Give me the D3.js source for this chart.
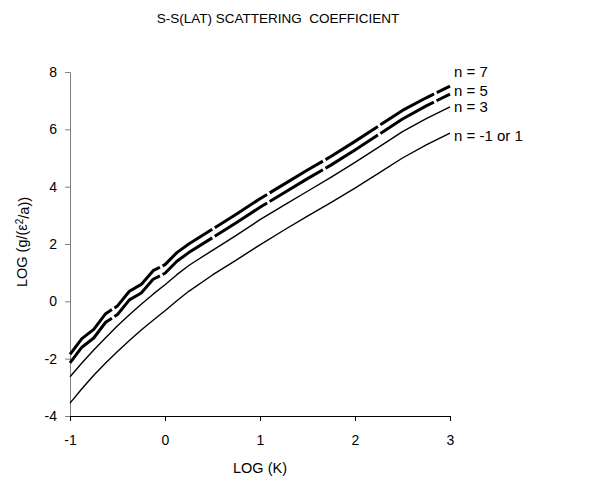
<!DOCTYPE html>
<meta charset="utf-8">
<style>

body {
  margin: 0;
  background: #fff;
}

text {
  font-family: "Liberation Sans", Arial, sans-serif;
  fill: #000;
}

.line {
  fill: none;
  stroke: #000;
}

</style>
<body>
    <div class='chart'></div>
</body>
<script src="https://d3js.org/d3.v7.min.js"></script>
<script>

// LOG (K) sample points
var logK = [-1, -0.875, -0.75, -0.625, -0.5, -0.375, -0.25, -0.125, 0, 0.125, 0.25,
            0.5, 0.75, 1, 1.25, 1.5, 1.75, 2, 2.25, 2.5, 2.75, 3];

// LOG (g/(eps^2/a))
var nLow = [-3.55, -3.05, -2.58, -2.15, -1.75, -1.37, -1.00, -0.66, -0.33, 0.02, 0.35,
            0.92, 1.44, 1.97, 2.48, 2.97, 3.45, 3.95, 4.47, 5.00, 5.46, 5.87];
var n3 = [-2.63, -2.15, -1.70, -1.27, -0.85, -0.47, -0.10, 0.25, 0.58, 0.93, 1.25,
          1.78, 2.30, 2.85, 3.35, 3.84, 4.33, 4.85, 5.38, 5.92, 6.37, 6.78];
var n5 = [-2.15, -1.60, -1.28, -0.73, -0.46, 0.05, 0.29, 0.77, 0.98, 1.40, 1.70,
          2.22, 2.74, 3.28, 3.78, 4.28, 4.76, 5.28, 5.82, 6.36, 6.82, 7.23];
var n7 = [-1.85, -1.30, -0.98, -0.43, -0.16, 0.35, 0.59, 1.07, 1.28, 1.70, 2.00,
          2.52, 3.04, 3.58, 4.08, 4.58, 5.06, 5.58, 6.12, 6.66, 7.10, 7.51];

var names = ["n = -1 or 1", "n = 3", "n = 5", "n = 7"];
var labelAt = [5.77, 6.78, 7.34, 8.0];
var xTicks = [-1, 0, 1, 2, 3];
var yTicks = [-4, -2, 0, 2, 4, 6, 8];

var w = 610,
    h = 480;

var svg = d3.select(".chart").append("svg")
    .attr("width", w)
    .attr("height", h);

var x = d3.scaleLinear().domain([-1, 3]).range([70, 450]);
var y = d3.scaleLinear().domain([-4, 8]).range([416, 72]);

var series = [
  {name: names[0], vals: nLow, thick: false, lab: labelAt[0]},
  {name: names[1], vals: n3, thick: false, lab: labelAt[1]},
  {name: names[2], vals: n5, thick: true, lab: labelAt[2]},
  {name: names[3], vals: n7, thick: true, lab: labelAt[3]}
];

function plain(d) { return String(d); }

// axes
var yAxis = svg.append("g")
    .attr("transform", "translate(" + x(-1) + ",0)")
    .call(d3.axisLeft(y).tickValues(yTicks).tickSize(5).tickPadding(8).tickFormat(plain));
yAxis.selectAll("path, line").attr("stroke", "#808080");
yAxis.selectAll("text").style("font-size", "14px").attr("font-family", null);

var xAxis = svg.append("g")
    .attr("transform", "translate(0," + y(-4) + ")")
    .call(d3.axisBottom(x).tickValues(xTicks).tickSize(5).tickPadding(14).tickFormat(plain));
xAxis.selectAll("path, line").attr("stroke", "#000");
xAxis.selectAll("text").style("font-size", "14px").attr("font-family", null);

var line = d3.line()
    .x(function(d, i) { return x(logK[i]); })
    .y(function(d) { return y(d); });

svg.selectAll(".line")
    .data(series)
  .enter().append("path")
    .attr("class", "line")
    .attr("d", function(d) { return line(d.vals); })
    .attr("stroke-width", function(d) { return d.thick ? 3 : 1.4; })
    .attr("stroke-dasharray", function(d) { return d.thick ? "62,3" : null; })
    .attr("stroke-linejoin", "round");

svg.selectAll(".lab")
    .data(series)
  .enter().append("text")
    .attr("class", "lab")
    .attr("x", x(3) + 4)
    .attr("y", function(d) { return y(d.lab); })
    .attr("dy", "0.35em")
    .style("font-size", "15px")
    .text(function(d) { return d.name; });

// titles
svg.append("text")
    .attr("x", 278)
    .attr("y", 23)
    .attr("text-anchor", "middle")
    .style("font-size", "13.5px")
    .text("S-S(LAT) SCATTERING\u00a0\u00a0COEFFICIENT");

svg.append("text")
    .attr("x", x(1))
    .attr("y", 473)
    .attr("text-anchor", "middle")
    .style("font-size", "14.5px")
    .text("LOG (K)");

var yt = svg.append("text")
    .attr("transform", "translate(27," + 242 + ") rotate(-90)")
    .attr("text-anchor", "middle")
    .style("font-size", "14.5px");
yt.append("tspan").text("LOG (g/(\u03b5");
yt.append("tspan").attr("dy", "-0.45em").style("font-size", "10px").text("2");
yt.append("tspan").attr("dy", "0.45em").text("/a))");

</script>
